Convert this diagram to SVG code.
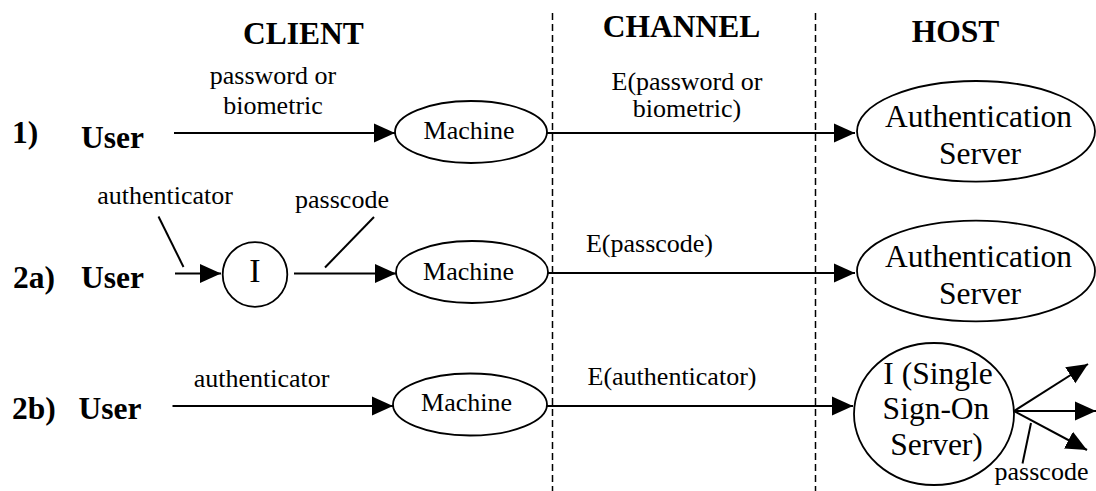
<svg xmlns="http://www.w3.org/2000/svg" width="1096" height="491" viewBox="0 0 1096 491">
<style>
.b{font-family:"Liberation Serif","Times New Roman",serif;font-weight:bold;font-size:31.5px;fill:#000}
.t{font-family:"Liberation Serif","Times New Roman",serif;font-size:26px;fill:#000}
.L{font-family:"Liberation Serif","Times New Roman",serif;font-size:31.5px;fill:#000}
.X{font-family:"Liberation Serif","Times New Roman",serif;font-size:34px;fill:#000}
.c{text-anchor:middle}
.shape{fill:#fff;stroke:#000;stroke-width:1.8}
.ln{stroke:#000;stroke-width:2;fill:none}
.arr{stroke:#000;stroke-width:2;fill:none;marker-end:url(#ah)}
.dash{stroke:#000;stroke-width:1.5;stroke-dasharray:7 4;fill:none}
</style>
<defs>
<marker id="ah" markerUnits="userSpaceOnUse" markerWidth="21" markerHeight="20" refX="21" refY="10" orient="auto">
<path d="M0,0.5 L21,10 L0,19.5 z" fill="#000"/>
</marker>
</defs>
<rect width="1096" height="491" fill="#fff"/>
<g id="lanes">
<line class="dash" x1="552.5" y1="13" x2="552.5" y2="491"/>
<line class="dash" x1="815.5" y1="13" x2="815.5" y2="491"/>
<text class="b c" x="303.5" y="44">CLIENT</text>
<text class="b c" x="681.5" y="37">CHANNEL</text>
<text class="b c" x="955.5" y="42">HOST</text>
</g>
<g id="row-labels">
<text class="b" x="12" y="143">1)</text>
<text class="b" x="13" y="288">2a)</text>
<text class="b" x="12" y="419">2b)</text>
</g>
<g id="connectors">
<line class="arr" x1="174" y1="133" x2="395" y2="133"/>
<line class="arr" x1="547" y1="133" x2="855" y2="133"/>
<line class="arr" x1="175" y1="273.5" x2="221" y2="273.5"/>
<line class="arr" x1="294" y1="273.5" x2="396" y2="273.5"/>
<line class="arr" x1="548" y1="273" x2="855" y2="273"/>
<line class="arr" x1="172.5" y1="406" x2="393" y2="406"/>
<line class="arr" x1="547" y1="406" x2="853" y2="406"/>
<line class="arr" x1="1014" y1="411" x2="1088" y2="364"/>
<line class="arr" x1="1014" y1="411" x2="1096" y2="411"/>
<line class="arr" x1="1014" y1="411" x2="1087" y2="450"/>
<line class="ln" x1="158.5" y1="216.5" x2="183.5" y2="267"/>
<line class="ln" x1="374" y1="217" x2="325" y2="267.5"/>
<line class="ln" x1="1031" y1="423" x2="1022.5" y2="463.5"/>
<text class="t c" x="273" y="84">password or</text>
<text class="t c" x="273" y="114">biometric</text>
<text class="t c" x="687" y="90">E(password or</text>
<text class="t c" x="687" y="117">biometric)</text>
<text class="t c" x="165" y="204">authenticator</text>
<text class="t c" x="342" y="208">passcode</text>
<text class="t c" x="649.5" y="251.5">E(passcode)</text>
<text class="t c" x="261.5" y="386.5">authenticator</text>
<text class="t c" x="672" y="385">E(authenticator)</text>
<text class="t c" x="1041.5" y="480">passcode</text>
</g>
<g id="user1"><text class="b" x="81" y="147.5">User</text></g>
<g id="user2a"><text class="b" x="81" y="288">User</text></g>
<g id="user2b"><text class="b" x="78.5" y="418.5">User</text></g>
<g id="machine1">
<ellipse class="shape" cx="471" cy="132" rx="76" ry="31"/>
<text class="t c" x="469" y="139">Machine</text>
</g>
<g id="identity2a">
<circle class="shape" cx="255" cy="274.5" r="32.3"/>
<text class="X c" x="255" y="282">I</text>
</g>
<g id="machine2a">
<ellipse class="shape" cx="472" cy="272" rx="76" ry="31"/>
<text class="t c" x="468.5" y="279.5">Machine</text>
</g>
<g id="machine2b">
<ellipse class="shape" cx="470" cy="404.5" rx="77" ry="31"/>
<text class="t c" x="466.5" y="411">Machine</text>
</g>
<g id="authserver1">
<ellipse class="shape" cx="976" cy="131.3" rx="119" ry="50.3"/>
<text class="L c" x="978.5" y="126.7">Authentication</text>
<text class="L c" x="980" y="164">Server</text>
</g>
<g id="authserver2a">
<ellipse class="shape" cx="976" cy="271" rx="119" ry="50.3"/>
<text class="L c" x="978.5" y="266.5">Authentication</text>
<text class="L c" x="980" y="304">Server</text>
</g>
<g id="sso2b">
<ellipse class="shape" cx="934" cy="414" rx="80" ry="71"/>
<text class="L c" x="938" y="383.5">I (Single</text>
<text class="L c" x="936" y="418.5">Sign-On</text>
<text class="L c" x="936.5" y="455">Server)</text>
</g>
</svg>
